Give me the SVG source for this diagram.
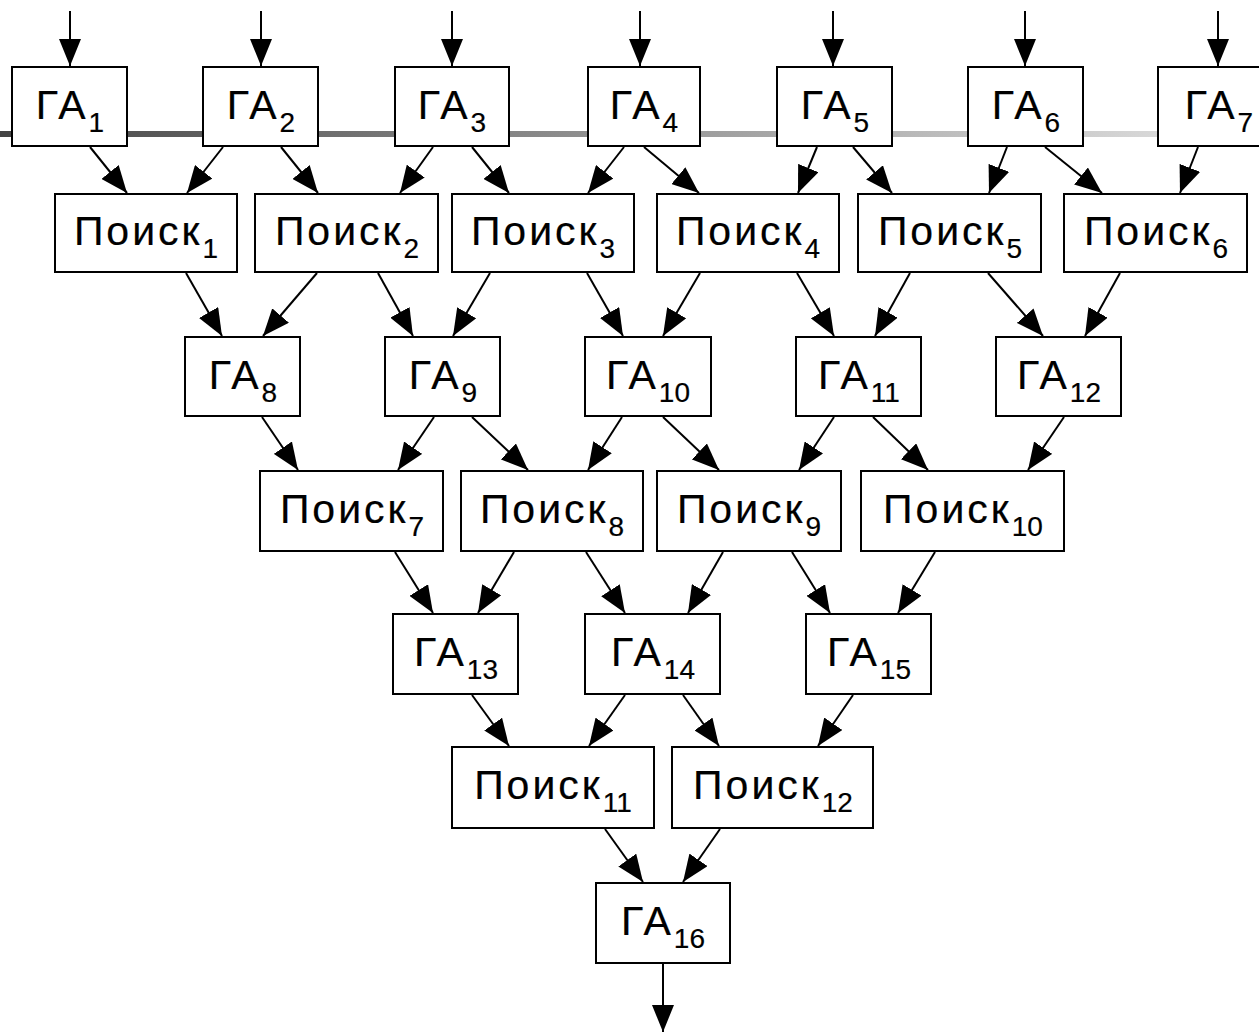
<svg xmlns="http://www.w3.org/2000/svg" width="1259" height="1033" viewBox="0 0 1259 1033">
<style>
.box{fill:#fff;stroke:#000;stroke-width:2}
.lbl{font-family:"Liberation Sans",Arial,sans-serif;font-size:41px;letter-spacing:3px;fill:#000;stroke:#000;stroke-width:0.2px;text-anchor:middle}
.sub{font-size:28px;letter-spacing:0}
.edge{stroke:#000;stroke-width:2;fill:none;marker-end:url(#ah)}
</style>
<defs>
<marker id="ah" markerUnits="userSpaceOnUse" markerWidth="27" markerHeight="22" refX="27" refY="11" orient="auto">
<path d="M0,0 L27,11 L0,22 z" fill="#000"/>
</marker>
<linearGradient id="bus" gradientUnits="userSpaceOnUse" x1="0" y1="0" x2="1160" y2="0">
<stop offset="0" stop-color="#444"/>
<stop offset="1" stop-color="#d8d8d8"/>
</linearGradient>
</defs>
<rect x="0" y="131" width="1259" height="6" fill="url(#bus)"/>
<g id="connectors">
<line class="edge" x1="70" y1="11" x2="70" y2="66"/>
<line class="edge" x1="261" y1="11" x2="261" y2="66"/>
<line class="edge" x1="452" y1="11" x2="452" y2="66"/>
<line class="edge" x1="640" y1="11" x2="640" y2="66"/>
<line class="edge" x1="833" y1="11" x2="833" y2="66"/>
<line class="edge" x1="1025" y1="11" x2="1025" y2="66"/>
<line class="edge" x1="1218" y1="11" x2="1218" y2="66"/>
<line class="edge" x1="90" y1="147" x2="127" y2="193"/>
<line class="edge" x1="223" y1="147" x2="187" y2="193"/>
<line class="edge" x1="281" y1="147" x2="318" y2="193"/>
<line class="edge" x1="433" y1="147" x2="400" y2="193"/>
<line class="edge" x1="472" y1="147" x2="509" y2="193"/>
<line class="edge" x1="624" y1="147" x2="588" y2="193"/>
<line class="edge" x1="644" y1="147" x2="699" y2="193"/>
<line class="edge" x1="817" y1="147" x2="798" y2="193"/>
<line class="edge" x1="853" y1="147" x2="892" y2="193"/>
<line class="edge" x1="1007" y1="147" x2="989" y2="193"/>
<line class="edge" x1="1045" y1="147" x2="1102" y2="193"/>
<line class="edge" x1="1198" y1="147" x2="1180" y2="193"/>
<line class="edge" x1="186" y1="273" x2="222" y2="336"/>
<line class="edge" x1="317" y1="273" x2="263" y2="336"/>
<line class="edge" x1="378" y1="273" x2="413" y2="336"/>
<line class="edge" x1="490" y1="273" x2="453" y2="336"/>
<line class="edge" x1="587" y1="273" x2="623" y2="336"/>
<line class="edge" x1="700" y1="273" x2="663" y2="336"/>
<line class="edge" x1="797" y1="273" x2="834" y2="336"/>
<line class="edge" x1="910" y1="273" x2="875" y2="336"/>
<line class="edge" x1="988" y1="273" x2="1043" y2="336"/>
<line class="edge" x1="1120" y1="273" x2="1085" y2="336"/>
<line class="edge" x1="262" y1="417" x2="298" y2="470"/>
<line class="edge" x1="434" y1="417" x2="398" y2="470"/>
<line class="edge" x1="472" y1="417" x2="528" y2="470"/>
<line class="edge" x1="622" y1="417" x2="588" y2="470"/>
<line class="edge" x1="663" y1="417" x2="719" y2="470"/>
<line class="edge" x1="834" y1="417" x2="799" y2="470"/>
<line class="edge" x1="873" y1="417" x2="928" y2="470"/>
<line class="edge" x1="1064" y1="417" x2="1028" y2="470"/>
<line class="edge" x1="395" y1="552" x2="433" y2="613"/>
<line class="edge" x1="514" y1="552" x2="478" y2="613"/>
<line class="edge" x1="586" y1="552" x2="625" y2="613"/>
<line class="edge" x1="723" y1="552" x2="688" y2="613"/>
<line class="edge" x1="792" y1="552" x2="830" y2="613"/>
<line class="edge" x1="935" y1="552" x2="898" y2="613"/>
<line class="edge" x1="472" y1="695" x2="509" y2="746"/>
<line class="edge" x1="625" y1="695" x2="589" y2="746"/>
<line class="edge" x1="683" y1="695" x2="719" y2="746"/>
<line class="edge" x1="853" y1="695" x2="818" y2="746"/>
<line class="edge" x1="605" y1="829" x2="643" y2="882"/>
<line class="edge" x1="720" y1="829" x2="683" y2="882"/>
<line class="edge" x1="663" y1="963" x2="663" y2="1032"/>
</g>
<g id="ga1"><rect class="box" x="12" y="67" width="115" height="79"/><text class="lbl" x="70" y="119">ГА<tspan class="sub" dy="13">1</tspan></text></g>
<g id="ga2"><rect class="box" x="203" y="67" width="115" height="79"/><text class="lbl" x="261" y="119">ГА<tspan class="sub" dy="13">2</tspan></text></g>
<g id="ga3"><rect class="box" x="395" y="67" width="114" height="79"/><text class="lbl" x="452" y="119">ГА<tspan class="sub" dy="13">3</tspan></text></g>
<g id="ga4"><rect class="box" x="588" y="67" width="112" height="79"/><text class="lbl" x="644" y="119">ГА<tspan class="sub" dy="13">4</tspan></text></g>
<g id="ga5"><rect class="box" x="777" y="67" width="115" height="79"/><text class="lbl" x="835" y="119">ГА<tspan class="sub" dy="13">5</tspan></text></g>
<g id="ga6"><rect class="box" x="968" y="67" width="115" height="79"/><text class="lbl" x="1026" y="119">ГА<tspan class="sub" dy="13">6</tspan></text></g>
<g id="ga7"><rect class="box" x="1158" y="67" width="118" height="79"/><text class="lbl" x="1219" y="119">ГА<tspan class="sub" dy="13">7</tspan></text></g>
<g id="poisk1"><rect class="box" x="55" y="194" width="182" height="78"/><text class="lbl" x="146" y="245">Поиск<tspan class="sub" dy="13">1</tspan></text></g>
<g id="poisk2"><rect class="box" x="255" y="194" width="183" height="78"/><text class="lbl" x="347" y="245">Поиск<tspan class="sub" dy="13">2</tspan></text></g>
<g id="poisk3"><rect class="box" x="452" y="194" width="182" height="78"/><text class="lbl" x="543" y="245">Поиск<tspan class="sub" dy="13">3</tspan></text></g>
<g id="poisk4"><rect class="box" x="657" y="194" width="182" height="78"/><text class="lbl" x="748" y="245">Поиск<tspan class="sub" dy="13">4</tspan></text></g>
<g id="poisk5"><rect class="box" x="858" y="194" width="183" height="78"/><text class="lbl" x="950" y="245">Поиск<tspan class="sub" dy="13">5</tspan></text></g>
<g id="poisk6"><rect class="box" x="1064" y="194" width="183" height="78"/><text class="lbl" x="1156" y="245">Поиск<tspan class="sub" dy="13">6</tspan></text></g>
<g id="ga8"><rect class="box" x="185" y="337" width="115" height="79"/><text class="lbl" x="243" y="389">ГА<tspan class="sub" dy="13">8</tspan></text></g>
<g id="ga9"><rect class="box" x="385" y="337" width="115" height="79"/><text class="lbl" x="443" y="389">ГА<tspan class="sub" dy="13">9</tspan></text></g>
<g id="ga10"><rect class="box" x="585" y="337" width="126" height="79"/><text class="lbl" x="648" y="389">ГА<tspan class="sub" dy="13">10</tspan></text></g>
<g id="ga11"><rect class="box" x="796" y="337" width="125" height="79"/><text class="lbl" x="859" y="389">ГА<tspan class="sub" dy="13">11</tspan></text></g>
<g id="ga12"><rect class="box" x="996" y="337" width="125" height="79"/><text class="lbl" x="1059" y="389">ГА<tspan class="sub" dy="13">12</tspan></text></g>
<g id="poisk7"><rect class="box" x="260" y="471" width="183" height="80"/><text class="lbl" x="352" y="523">Поиск<tspan class="sub" dy="13">7</tspan></text></g>
<g id="poisk8"><rect class="box" x="461" y="471" width="182" height="80"/><text class="lbl" x="552" y="523">Поиск<tspan class="sub" dy="13">8</tspan></text></g>
<g id="poisk9"><rect class="box" x="657" y="471" width="184" height="80"/><text class="lbl" x="749" y="523">Поиск<tspan class="sub" dy="13">9</tspan></text></g>
<g id="poisk10"><rect class="box" x="861" y="471" width="203" height="80"/><text class="lbl" x="963" y="523">Поиск<tspan class="sub" dy="13">10</tspan></text></g>
<g id="ga13"><rect class="box" x="393" y="614" width="125" height="80"/><text class="lbl" x="456" y="666">ГА<tspan class="sub" dy="13">13</tspan></text></g>
<g id="ga14"><rect class="box" x="585" y="614" width="135" height="80"/><text class="lbl" x="653" y="666">ГА<tspan class="sub" dy="13">14</tspan></text></g>
<g id="ga15"><rect class="box" x="806" y="614" width="125" height="80"/><text class="lbl" x="869" y="666">ГА<tspan class="sub" dy="13">15</tspan></text></g>
<g id="poisk11"><rect class="box" x="452" y="747" width="202" height="81"/><text class="lbl" x="553" y="799">Поиск<tspan class="sub" dy="13">11</tspan></text></g>
<g id="poisk12"><rect class="box" x="672" y="747" width="201" height="81"/><text class="lbl" x="773" y="799">Поиск<tspan class="sub" dy="13">12</tspan></text></g>
<g id="ga16"><rect class="box" x="596" y="883" width="134" height="80"/><text class="lbl" x="663" y="935">ГА<tspan class="sub" dy="13">16</tspan></text></g>
</svg>
